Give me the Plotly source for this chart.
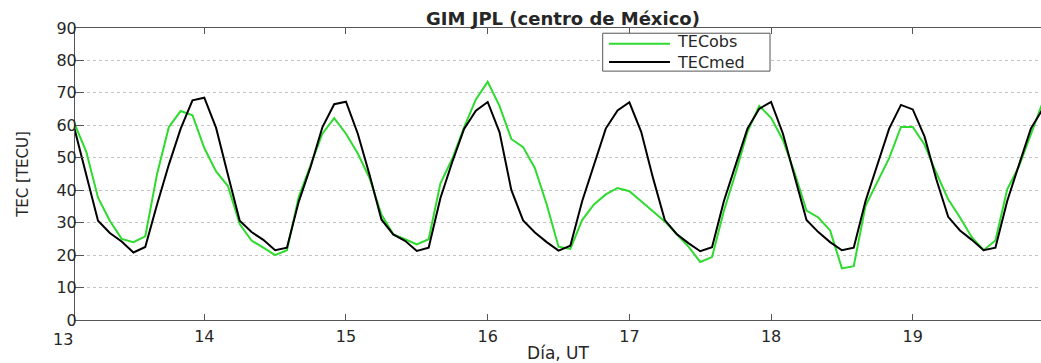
import plotly.graph_objects as go

# UT hours since day 13, 00 UT (2-hour sampling)
hours = list(range(2, 168, 2))
days = [13 + h / 24 for h in hours]

tec_obs = [60.6, 51.9, 37.7, 30.6, 25.0, 24.0, 25.8, 45.0, 59.5, 64.4, 63.1, 53.0,
           45.8, 41.3, 29.6, 24.5, 22.3, 20.0, 21.5, 38.0, 47.7, 57.4, 62.2, 57.4,
           51.3, 43.7, 32.5, 26.4, 24.9, 23.3, 24.9, 42.1, 49.7, 59.4, 68.0, 73.4,
           66.0, 55.8, 53.3, 46.8, 35.6, 22.6, 21.9, 30.8, 35.6, 38.7, 40.7, 39.7,
           36.6, 33.6, 30.4, 26.5, 22.6, 17.9, 19.4, 33.6, 45.3, 58.0, 66.0, 62.3,
           55.5, 45.3, 33.7, 31.6, 27.6, 15.9, 16.6, 35.2, 42.3, 49.9, 59.5, 59.5,
           54.0, 45.3, 37.2, 31.6, 25.5, 21.5, 24.5, 40.3, 47.4, 57.5, 67.0]

tec_med = [59.0, 44.8, 30.6, 26.8, 24.2, 20.8, 22.5, 35.6, 47.9, 59.0, 67.7, 68.5,
           59.2, 44.8, 30.6, 27.1, 24.7, 21.5, 22.3, 36.5, 47.2, 59.4, 66.5, 67.3,
           57.4, 44.7, 31.0, 26.4, 24.4, 21.3, 22.3, 37.6, 48.7, 58.9, 64.5, 67.2,
           57.9, 40.1, 30.7, 27.0, 24.0, 21.4, 22.9, 36.6, 47.8, 59.0, 64.6, 67.1,
           58.0, 43.8, 30.8, 26.5, 23.7, 21.2, 22.4, 36.6, 47.8, 59.0, 65.1, 67.2,
           57.5, 43.8, 30.8, 27.1, 24.0, 21.5, 22.3, 36.7, 47.9, 59.0, 66.3, 64.9,
           56.5, 43.3, 31.8, 27.6, 24.7, 21.5, 22.3, 36.7, 47.9, 59.0, 65.0]

series_names = ["TECobs", "TECmed"]
x_ticks = [13, 14, 15, 16, 17, 18, 19]
y_ticks = [0, 10, 20, 30, 40, 50, 60, 70, 80, 90]
x_range = [13.0875, 19.905]
y_range = [0, 90]

FONT = "DejaVu Sans"
TXT = "#262626"
AX = "#555555"
GREEN = "#2edb2e"
colors = [GREEN, "#000000"]

W, H = 1041, 363
ML, MR, MT, MB = 75, 0, 28, 39
PW, PH = W - ML - MR, H - MT - MB

fig = go.Figure()
for name, vals, col in zip(series_names, [tec_obs, tec_med], colors):
    fig.add_trace(go.Scatter(x=days, y=vals, mode="lines", name=name,
                             line=dict(color=col, width=2), showlegend=False))

visible_ticks = [t for t in x_ticks if x_range[0] <= t <= x_range[1]]
fig.update_layout(
    width=W, height=H,
    margin=dict(l=ML, r=MR, t=MT, b=MB),
    paper_bgcolor="white", plot_bgcolor="white",
    font=dict(family=FONT, size=16, color=TXT),
    title=dict(text="<b>GIM JPL (centro de México)</b>",
               font=dict(family=FONT, size=18, color=TXT),
               x=563 / W, xanchor="center", xref="container",
               y=1 - 19 / H, yanchor="middle", yref="container"),
    xaxis=dict(range=x_range, tickvals=visible_ticks,
               ticktext=[str(t) for t in visible_ticks],
               ticks="inside", ticklen=6, tickcolor=AX, tickwidth=1,
               ticklabelstandoff=2,
               showline=True, linecolor=AX, linewidth=1, mirror="ticks",
               showgrid=False, zeroline=False,
               tickfont=dict(family=FONT, size=16, color=TXT),
               title=dict(text="Día, UT", standoff=5,
                          font=dict(family=FONT, size=17, color=TXT))),
    yaxis=dict(range=y_range, tickvals=y_ticks,
               ticks="inside", ticklen=9, tickcolor=AX, tickwidth=1,
               ticklabelstandoff=-6,
               showline=True, linecolor=AX, linewidth=1,
               showgrid=True, gridcolor="#c4c4c4", griddash="dot", gridwidth=1,
               zeroline=False,
               tickfont=dict(family=FONT, size=16, color=TXT),
               title=dict(text="TEC [TECU]", standoff=24,
                          font=dict(family=FONT, size=15, color=TXT))),
    showlegend=False,
)

# tick label for day 13, which lies just left of the visible x range
for t in x_ticks:
    if t < x_range[0]:
        fig.add_annotation(x=(t - x_range[0]) / (x_range[1] - x_range[0]),
                           xref="paper", xanchor="center",
                           y=0, yref="paper", yanchor="top", yshift=-8,
                           text=str(t), showarrow=False,
                           font=dict(family=FONT, size=16, color=TXT))

# legend box (pixel positions converted to paper coordinates)
def px(xp):
    return (xp - ML) / PW

def py(yp):
    return (H - MB - yp) / PH

box = dict(x0=602.7, x1=770, y0=33.3, y1=71.7)
fig.add_shape(type="rect", xref="paper", yref="paper",
              x0=px(box["x0"]), x1=px(box["x1"]),
              y0=py(box["y1"]), y1=py(box["y0"]),
              line=dict(color=AX, width=1), fillcolor="white", layer="above")
entry_y = [44.0, 62.5]
for col, ey in zip(colors, entry_y):
    fig.add_shape(type="line", xref="paper", yref="paper",
                  x0=px(609), x1=px(670), y0=py(ey), y1=py(ey),
                  line=dict(color=col, width=2), layer="above")
fig.add_annotation(x=px(675), y=py((box["y0"] + box["y1"]) / 2),
                   xref="paper", yref="paper",
                   xanchor="left", yanchor="middle", align="left",
                   text="<br>".join(series_names), showarrow=False,
                   font=dict(family=FONT, size=16, color=TXT))

fig.write_html("out.html")
